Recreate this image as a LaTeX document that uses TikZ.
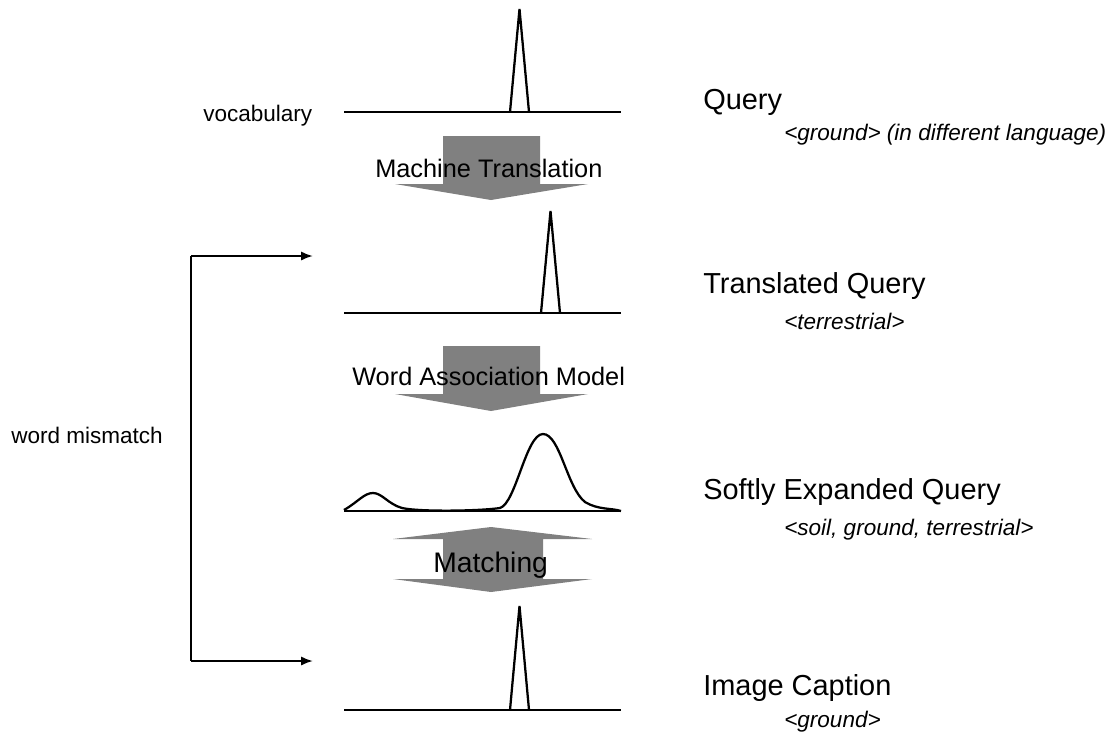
\documentclass[tikz,border=0pt]{standalone}
\usepackage{fontspec}
\setmainfont{Liberation Sans}
\usetikzlibrary{arrows.meta}
\definecolor{arrowgray}{HTML}{808080}
\tikzset{
  axis/.style={line width=1.7pt},
  spike/.style={line width=1.7pt, line join=miter},
  blockarrow/.style={fill=arrowgray, draw=none},
  heading/.style={anchor=base west, inner sep=0pt, font=\fontsize{21.7}{24}\selectfont},
  example/.style={anchor=base west, inner sep=0pt, font=\fontsize{16.9}{19}\selectfont\itshape},
  process/.style={anchor=base west, inner sep=0pt, font=\fontsize{19}{22}\selectfont},
  side/.style={anchor=base west, inner sep=0pt, font=\fontsize{16.9}{19}\selectfont},
  link/.style={line width=1.6pt, -{Latex[length=9pt,width=7pt]}},
}
\begin{document}
\begin{tikzpicture}[x=0.75pt,y=-0.75pt]
\useasboundingbox (0,0) rectangle (1114,733);

% ---- Query distribution
\draw[axis] (344,112) -- (621,112);
\draw[spike] (510,112) -- (519.5,9) -- (529,112);

% ---- Machine Translation arrow
\fill[blockarrow] (443,136) -- (540,136) -- (540,184) -- (588,184) -- (491,200) -- (395,184) -- (443,184) -- cycle;
\node[process] (mt) at (375,177) {Machine Translation};

% ---- Translated query distribution
\draw[axis] (344,313) -- (621,313);
\draw[spike] (541,313) -- (550.5,211) -- (560,313);

% ---- Word Association Model arrow
\fill[blockarrow] (443,346) -- (540,346) -- (540,394) -- (588,394) -- (491,411) -- (395,394) -- (443,394) -- cycle;
\node[process] (wam) at (352,385) {Word Association Model};

% ---- Softly expanded distribution
\draw[axis] (344,511) -- (621,511);
\draw[line width=1.7pt] (344,510) .. controls (358,502) and (364,493) .. (373,493)
  .. controls (382,493) and (388,504) .. (402,508)
  .. controls (420,512) and (480,511) .. (500,508)
  .. controls (516,503) and (526,434) .. (543,434)
  .. controls (560,434) and (567,488) .. (585,502)
  .. controls (598,510) and (612,508) .. (621,511);

% ---- Matching double arrow
\fill[blockarrow] (491,527) -- (592,539) -- (543,539) -- (543,579) -- (592,579) -- (491,592) -- (393,579) -- (443,579) -- (443,539) -- (393,539) -- cycle;
\node[anchor=base west, inner sep=0pt, font=\fontsize{21.2}{24}\selectfont] (match) at (433,572) {Matching};

% ---- Image caption distribution
\draw[axis] (344,710) -- (621,710);
\draw[spike] (510,710) -- (519.5,606) -- (529,710);

% ---- Labels
\node[side] (vocab) at (203,121) {vocabulary};
\node[side] (wm) at (11,443) {word mismatch};

\node[heading] (q) at (703,109) {Query};
\node[example] (qe) at (784,140) {<ground> (in different language)};
\node[heading] (tq) at (703,293) {Translated Query};
\node[example] (tqe) at (784,329) {<terrestrial>};
\node[heading] (seq) at (703,499) {Softly Expanded Query};
\node[example] (seqe) at (784,535) {<soil, ground, terrestrial>};
\node[heading] (ic) at (703,695) {Image Caption};
\node[example] (ice) at (784,727) {<ground>};

% ---- word mismatch bracket
\coordinate (bt) at (191,256);
\coordinate (bb) at (191,661);
\coordinate (tqin) at (313,256);
\coordinate (icin) at (313,661);
\draw[line width=1.6pt] (bt) -- (bb);
\draw[link] (bt) -- (tqin);
\draw[link] (bb) -- (icin);
\end{tikzpicture}
\end{document}
